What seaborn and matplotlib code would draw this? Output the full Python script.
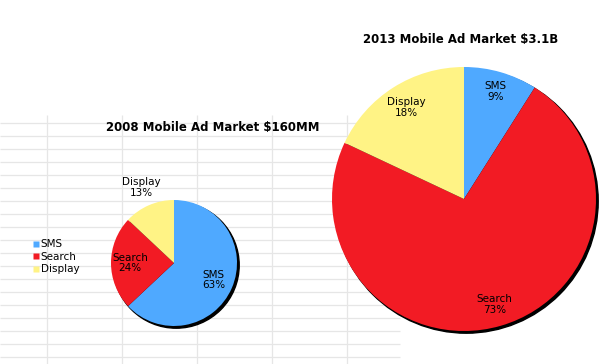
import numpy as np
import matplotlib
matplotlib.use("Agg")
import matplotlib.pyplot as plt
from matplotlib.patches import Circle
from matplotlib.lines import Line2D
import seaborn as sns

# data
segments = ["SMS", "Search", "Display"]
share_2008 = [63, 24, 13]
share_2013 = [9, 73, 18]
title_2008 = "2008 Mobile Ad Market $160MM"
title_2013 = "2013 Mobile Ad Market $3.1B"

sns.set_theme(style="white")
plt.rcParams["font.family"] = ["DejaVu Sans"]
plt.rcParams["text.color"] = "black"
palette = sns.color_palette(["#4fa9ff", "#f21b24", "#fff385"])

W, H = 614, 364
fig = plt.figure(figsize=(W / 100, H / 100), dpi=100)

# faint spreadsheet grid in the background
bg = fig.add_axes([0, 0, 1, 1], zorder=0)
bg.set_xlim(0, W)
bg.set_ylim(H, 0)
bg.axis("off")
rows = np.arange(123, H, 13)
bg.hlines(rows, 0, 400, color="#e6e6e6", lw=0.9)
bg.vlines([47, 122, 197, 272, 347], 115, H, color="#e6e6e6", lw=0.9)


def draw_pie(cx, cy, r, values, label_dist, title, tx, ty):
    lim = 1.12
    ax = fig.add_axes([(cx - r * lim) / W, (H - cy - r * lim) / H,
                       2 * r * lim / W, 2 * r * lim / H], zorder=2)
    ax.patch.set_alpha(0)
    off = 2.2 / r
    ax.add_patch(Circle((off, -off), 1.0, color="black", zorder=0.5))
    wedges, _ = ax.pie(values, colors=palette, startangle=90, counterclock=False,
                       radius=1, wedgeprops=dict(linewidth=0))
    for w, name, v, d in zip(wedges, segments, values, label_dist):
        ang = np.deg2rad((w.theta1 + w.theta2) / 2)
        ax.text(d * np.cos(ang), d * np.sin(ang), f"{name}\n{v}%",
                ha="center", va="center", fontsize=7.5, linespacing=1.1)
    ax.set_xlim(-lim, lim)
    ax.set_ylim(-lim, lim)
    ax.set_aspect("equal")
    ax.axis("off")
    fig.text(tx / W, 1 - ty / H, title, ha="center", va="center",
             fontsize=8.5, fontweight="bold")
    return ax


draw_pie(174, 263, 63, share_2008, [0.68, 0.7, 1.3], title_2008, 213, 127)
draw_pie(464, 199, 132, share_2013, [0.85, 0.83, 0.82], title_2013, 461, 40)

handles = [Line2D([0], [0], marker="s", color="none", markerfacecolor=c,
                  markeredgecolor="none", markersize=5) for c in palette]
fig.legend(handles, segments, loc="upper left", bbox_to_anchor=(28 / W, 1 - 234 / H),
           frameon=False, fontsize=7.5, handlelength=0.5, handletextpad=0.2,
           labelspacing=0.25, borderpad=0)

fig.savefig("out.png", dpi=100)
